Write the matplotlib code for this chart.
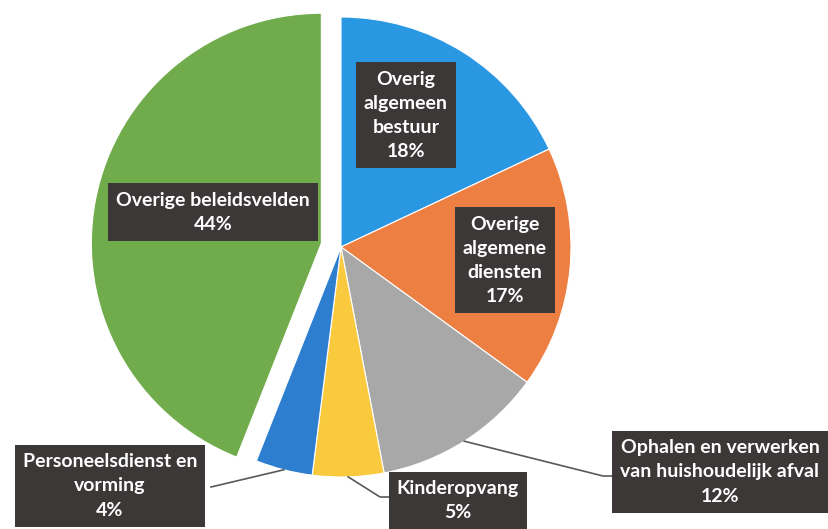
import numpy as np
import matplotlib
from matplotlib import pyplot as plt

matplotlib.rcParams['font.family'] = ['Lato', 'DejaVu Sans']

# data
labels = ['Overig\nalgemeen\nbestuur', 'Overige\nalgemene\ndiensten',
          'Ophalen en verwerken\nvan huishoudelijk afval', 'Kinderopvang',
          'Personeelsdienst en\nvorming', 'Overige beleidsvelden']
values = [18, 17, 12, 5, 4, 44]
colors = ['#2A97E3', '#EE7F43', '#A8A8A8', '#F9C93E', '#2E7ED0', '#71AC4C']

W, H = 829, 529
fig = plt.figure(figsize=(W / 100, H / 100), dpi=100)
ax = fig.add_axes([0, 0, 1, 1])

cx, cy, r = 341, 282, 230
explode = [0, 0, 0, 0, 0, 20]
wedges, _ = ax.pie(values, colors=colors, startangle=90, counterclock=False,
                   radius=r, center=(cx, cy), explode=explode,
                   wedgeprops=dict(edgecolor='white', linewidth=0.8), frame=True)
ax.set_xlim(0, W)
ax.set_ylim(0, H)
ax.set_aspect('equal')
ax.axis('off')

# label centres (pixel coords, y up) - positions only
lab_pos = [(406, 414), (505, 269), (720, 57), (458, 28), (110, 43), (213, 317)]
# leader line elbows for outside labels
leaders = {2: [(603, 53), (612, 53)], 3: [(380, 32), (403, 32)], 4: [(211, 42)]}

box = dict(boxstyle='square,pad=0.42', fc='#3d3838', ec='none')
for i, (lab, v) in enumerate(zip(labels, values)):
    x, y = lab_pos[i]
    ax.text(x, y, '%s\n%d%%' % (lab, v), ha='center', va='center', color='white',
            fontsize=14, fontweight='bold', linespacing=1.5, bbox=box, zorder=5)
    if i in leaders:
        w = wedges[i]
        ang = np.deg2rad((w.theta1 + w.theta2) / 2)
        sx = w.center[0] + r * np.cos(ang)
        sy = w.center[1] + r * np.sin(ang)
        pts = [(sx, sy)] + leaders[i]
        ax.plot([p[0] for p in pts], [p[1] for p in pts], color='#595959', lw=1.2, zorder=4)

plt.savefig('out.png', dpi=100)
